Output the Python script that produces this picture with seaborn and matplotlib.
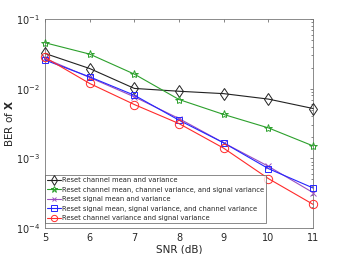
import numpy as np
import pandas as pd
import matplotlib
matplotlib.use("Agg")
import matplotlib.pyplot as plt
import seaborn as sns

snr = [5, 6, 7, 8, 9, 10, 11]
ber_ch_mean_var = [0.0321, 0.0195, 0.0101, 0.0092, 0.0085, 0.0071, 0.0052]
ber_ch_mean_var_sig_var = [0.0457, 0.0314, 0.0162, 0.0070, 0.00427, 0.00274, 0.00151]
ber_sig_mean_var = [0.0272, 0.0145, 0.00764, 0.00373, 0.00167, 0.00077, 0.000322]
ber_sig_mean_var_ch_var = [0.0258, 0.0148, 0.00807, 0.00353, 0.00167, 0.000713, 0.000376]
ber_ch_var_sig_var = [0.0281, 0.0119, 0.00593, 0.00316, 0.0014, 0.000513, 0.000219]

labels = [
    "Reset channel mean and variance",
    "Reset channel mean, channel variance, and signal variance",
    "Reset signal mean and variance",
    "Reset signal mean, signal variance, and channel variance",
    "Reset channel variance and signal variance",
]
series = [ber_ch_mean_var, ber_ch_mean_var_sig_var, ber_sig_mean_var,
          ber_sig_mean_var_ch_var, ber_ch_var_sig_var]
colors = ["#222222", "#2ca02c", "#9b4fc0", "#2525ff", "#ff2a2a"]
markers = ["d", "*", "x", "s", "o"]
msizes = [6.5, 6, 4, 5, 6]

sns.set_theme(style="white")
plt.rcParams['font.family'] = ['DejaVu Sans']

fig = plt.figure(figsize=(3.46, 2.54), dpi=100)
ax = fig.add_axes([0.130, 0.102, 0.775, 0.823])

for lab, vals, c, m, ms in zip(labels, series, colors, markers, msizes):
    df = pd.DataFrame({"snr": snr, "ber": vals})
    sns.lineplot(data=df, x="snr", y="ber", ax=ax, color=c, marker=m,
                 markersize=ms, markerfacecolor="none", markeredgecolor=c,
                 markeredgewidth=0.7, linewidth=0.8, label=lab, clip_on=False,
                 zorder=3)

ax.set_yscale("log")
ax.set_xlim(5, 11)
ax.set_ylim(1e-4, 1e-1)
ax.set_xticks(snr)
ax.tick_params(axis="both", which="both", direction="in", labelsize=7,
               top=True, right=True, color="#555555", length=2.5, width=0.5)
ax.tick_params(which="minor", length=1.5)
for s in ax.spines.values():
    s.set_color("#777777")
    s.set_linewidth(0.6)
ax.set_xlabel("SNR (dB)", fontsize=7.5, labelpad=1)
ax.set_ylabel(r"BER of $\mathbf{X}$", fontsize=7.5, labelpad=1)

leg = ax.legend(loc="lower left", bbox_to_anchor=(0.0, 0.024), fontsize=4.9,
                frameon=True, fancybox=False, markerscale=0.75,
                borderpad=0.3, labelspacing=0.5, handlelength=2.0,
                handletextpad=0.2, borderaxespad=0.0)
leg.get_frame().set_edgecolor("#555555")
leg.get_frame().set_linewidth(0.6)
leg.set_zorder(5)

fig.savefig("out.png", dpi=100)
